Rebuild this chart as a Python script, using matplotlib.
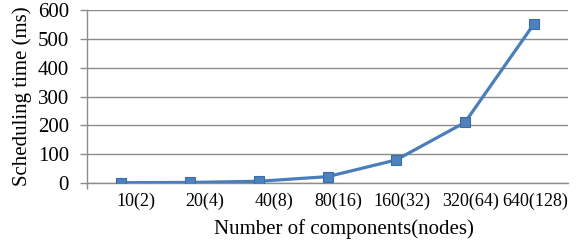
import matplotlib
matplotlib.use("Agg")
import matplotlib.pyplot as plt
import numpy as np

categories = ["10(2)", "20(4)", "40(8)", "80(16)", "160(32)", "320(64)", "640(128)"]
sched_time = [1, 2, 6, 22, 80, 210, 550]
y_ticks = [0, 100, 200, 300, 400, 500, 600]

plt.rcParams['font.family'] = ['Liberation Serif', 'DejaVu Serif']

fig = plt.figure(figsize=(5.82, 2.42), dpi=100)
ax = fig.add_axes([87/582, 1-183/242, (568-87)/582, (183-10)/242])

x = np.arange(len(categories))
ax.plot(x, sched_time, color='#4A7EBB', linewidth=2.3, marker='s', markersize=7.5,
        markerfacecolor='#4F81BD', markeredgecolor='#3A6DA8', markeredgewidth=0.8, zorder=3)

ax.set_xlim(-0.5, len(categories) - 0.5)
ax.set_ylim(0, 600)
ax.set_yticks(y_ticks)
ax.set_yticklabels([str(v) for v in y_ticks], fontsize=15)
ax.yaxis.grid(True, color='#8C8C8C', linewidth=1)
ax.set_axisbelow(True)

# category boundary tick marks
ax.set_xticks(np.arange(len(categories) + 1) - 0.5, minor=True)
ax.tick_params(axis='x', which='minor', length=4, width=1, color='#8C8C8C')
# labels right-aligned at right boundary of each category
ax.set_xticks(x + 0.5)
ax.set_xticklabels(categories, fontsize=13, ha='right')
ax.tick_params(axis='x', which='major', length=0, pad=7)
ax.tick_params(axis='y', length=5, width=1, color='#8C8C8C', pad=8)

for s in ['top', 'right']:
    ax.spines[s].set_visible(False)
for s in ['left', 'bottom']:
    ax.spines[s].set_color('#8C8C8C')
    ax.spines[s].set_linewidth(1)

ax.set_ylabel("Scheduling time (ms)", fontsize=15, labelpad=4)
ax.set_xlabel("Number of components(nodes)", fontsize=15)
ax.xaxis.label.set_va('center')
ax.xaxis.set_label_coords((344 - 87) / (568 - 87), (183 - 229) / (183 - 10))

fig.savefig("out.png", dpi=100)
